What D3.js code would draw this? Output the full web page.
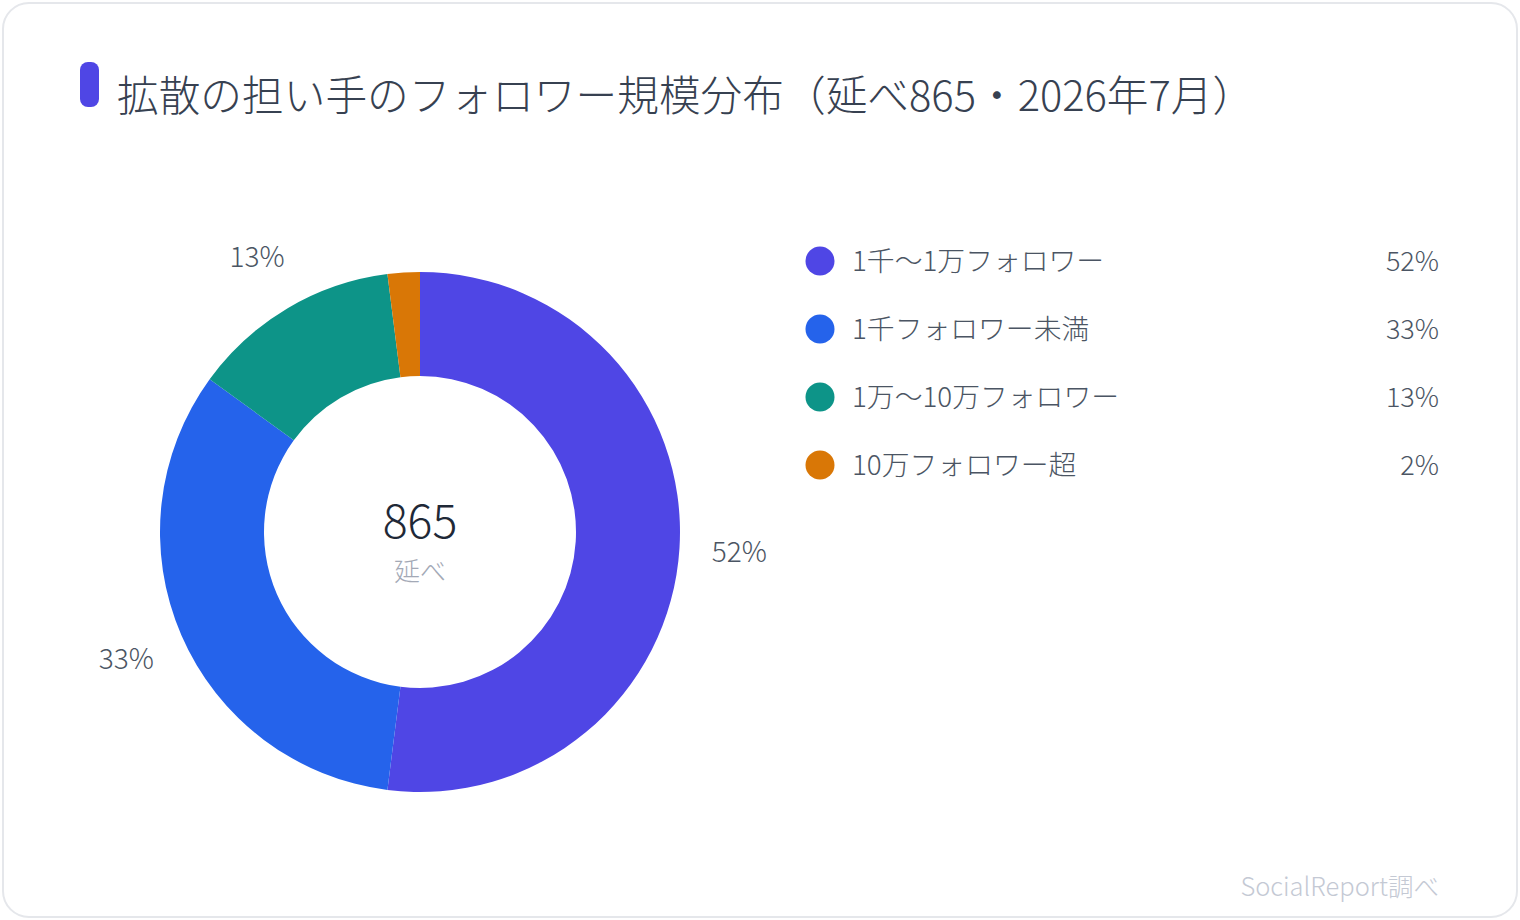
<!DOCTYPE html>
<html><head><meta charset="utf-8">
<script src="https://cdn.jsdelivr.net/npm/d3@7"></script>
<style>
html,body{margin:0;padding:0;background:#fff;}
svg text{font-family:"Noto Sans CJK JP","Noto Sans",sans-serif;font-weight:300;}
</style></head>
<body>
<svg id="c" width="1520" height="920"></svg>
<script>
const title = "拡散の担い手のフォロワー規模分布（延べ865・2026年7月）";
const categories = ["1千〜1万フォロワー","1千フォロワー未満","1万〜10万フォロワー","10万フォロワー超"];
const values = [52, 33, 13, 2];
const colors = ["#4f46e5","#2563eb","#0d9488","#d97706"];
const centerValue = "865";
const centerLabel = "延べ";
const source = "SocialReport調べ";

const svg = d3.select("#c");
svg.append("rect").attr("x",3).attr("y",3).attr("width",1514).attr("height",914)
  .attr("rx",26).attr("fill","#fff").attr("stroke","#e5e7eb").attr("stroke-width",2);
svg.append("rect").attr("x",80).attr("y",62).attr("width",19).attr("height",45).attr("rx",8).attr("fill","#4f46e5");
svg.append("text").attr("x",117).attr("y",111).attr("font-size",41.7).attr("fill","#374151").text(title);

const cx=420, cy=532, R=260, r=156;
const pie = d3.pie().sort(null).value(d=>d)(values);
const arc = d3.arc().innerRadius(r).outerRadius(R);
const g = svg.append("g").attr("transform",`translate(${cx},${cy})`);
g.selectAll("path").data(pie).join("path").attr("d",arc).attr("fill",(d,i)=>colors[i]);
const labArc = d3.arc().innerRadius(320).outerRadius(320);
g.selectAll("text.lab").data(pie.filter(d=>d.data>=5)).join("text").attr("class","lab")
  .attr("x",d=>labArc.centroid(d)[0]).attr("y",d=>labArc.centroid(d)[1]-2)
  .attr("text-anchor","middle").attr("dominant-baseline","central")
  .attr("font-size",28).attr("fill","#4b5563").text(d=>d.data+"%");
g.append("text").attr("y",-15).attr("text-anchor","middle").attr("dominant-baseline","central")
  .attr("font-size",46.5).attr("fill","#1f2937").text(centerValue);
g.append("text").attr("y",37).attr("text-anchor","middle").attr("dominant-baseline","central")
  .attr("font-size",26).attr("fill","#a3a9b6").text(centerLabel);

const y = d3.scalePoint().domain(categories).range([259,463]);
const lg = svg.append("g");
const rows = lg.selectAll("g").data(categories).join("g").attr("transform",d=>`translate(0,${y(d)})`);
rows.append("circle").attr("cx",820).attr("cy",2).attr("r",14.5).attr("fill",(d,i)=>colors[i]);
rows.append("text").attr("x",852).attr("dominant-baseline","central").attr("font-size",27.8).attr("fill","#4b5563").text(d=>d);
rows.append("text").attr("x",1439).attr("text-anchor","end").attr("dominant-baseline","central").attr("font-size",27).attr("fill","#4b5563").text((d,i)=>values[i]+"%");

svg.append("text").attr("x",1439).attr("y",884).attr("text-anchor","end").attr("dominant-baseline","central")
  .attr("font-size",25.5).attr("fill","#c4c9d4").text(source);
</script>
</body></html>
